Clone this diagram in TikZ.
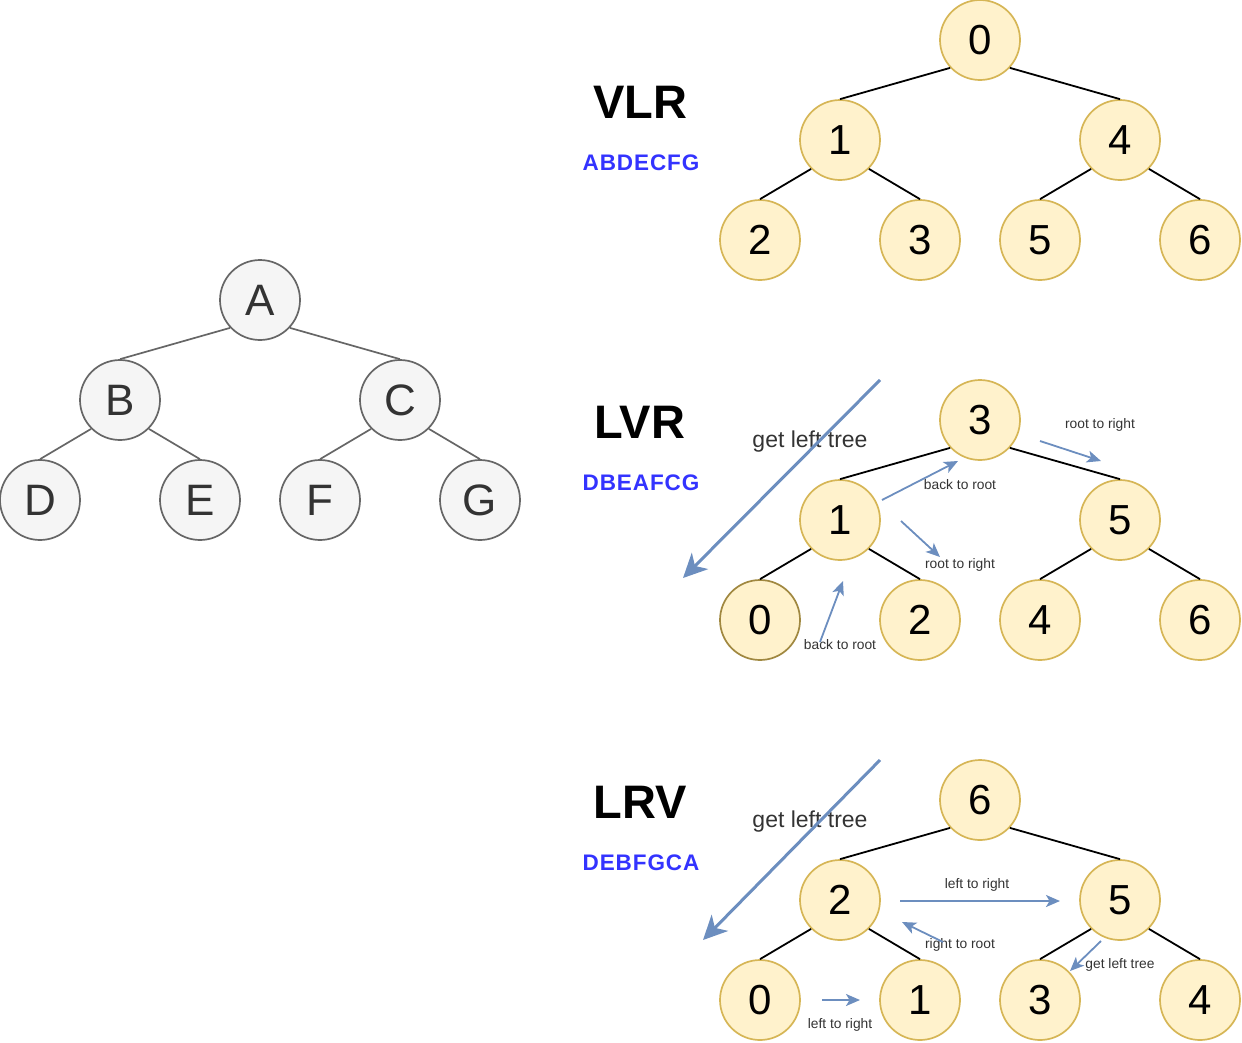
\documentclass[tikz,border=0pt]{standalone}
\usepackage{fontspec}
\setmainfont{Liberation Sans}
\usetikzlibrary{arrows.meta}
\definecolor{yfill}{HTML}{FFF2CC}
\definecolor{ystroke}{HTML}{D6B656}
\definecolor{gfill}{HTML}{F5F5F5}
\definecolor{gstroke}{HTML}{666666}
\definecolor{gtext}{HTML}{333333}
\definecolor{arrblue}{HTML}{6C8EBF}
\definecolor{titleblue}{HTML}{3333FF}
\tikzset{
  gnode/.style={circle, draw=gstroke, fill=gfill, text=gtext, minimum size=80pt, inner sep=0pt, line width=1.7pt, font=\fontsize{44}{50}\selectfont},
  ynode/.style={circle, draw=ystroke, fill=yfill, text=black, minimum size=80pt, inner sep=0pt, line width=1.7pt, font=\fontsize{42}{50}\selectfont},
  tedge/.style={black, line width=1.8pt},
  gedge/.style={gstroke, line width=1.7pt},
  bigarrow/.style={arrblue, line width=3pt, -{Stealth[length=24pt,width=23pt,inset=7pt]}},
  smallarrow/.style={arrblue, line width=1.8pt, -{Stealth[length=14pt,width=12pt,inset=3.5pt]}},
  lbl/.style={font=\fontsize{13.8}{16}\selectfont, text=gtext, inner sep=0pt},
  biglbl/.style={font=\fontsize{23}{26}\selectfont, text=gtext, inner sep=0pt},
  ttl/.style={font=\fontsize{47}{50}\selectfont\bfseries, anchor=base, inner sep=0pt},
  seq/.style={font=\fontsize{22.5}{24}\selectfont\bfseries\addfontfeature{LetterSpace=4}, text=titleblue, anchor=base, inner sep=0pt}
}
\begin{document}
\begin{tikzpicture}[x=1pt,y=-1pt]
\path[use as bounding box] (0,0) rectangle (1242,1042);

% left tree
\node[gnode] (A) at (260,300) {A};
\node[gnode] (B) at (120,400) {B};
\node[gnode] (C) at (400,400) {C};
\node[gnode] (D) at (40,500) {D};
\node[gnode] (E) at (200,500) {E};
\node[gnode] (F) at (320,500) {F};
\node[gnode] (G) at (480,500) {G};
\draw[gedge] (A.223) -- (B.north);
\draw[gedge] (A.317) -- (C.north);
\draw[gedge] (B.225) -- (D.north);
\draw[gedge] (B.315) -- (E.north);
\draw[gedge] (C.225) -- (F.north);
\draw[gedge] (C.315) -- (G.north);

% titles
\node[ttl] (t1) at (640,118) {VLR};
\node[seq] (s1) at (641,170) {ABDECFG};
\node[ttl] (t2) at (640,438) {LVR};
\node[seq] (s2) at (641,490) {DBEAFCG};
\node[ttl] (t3) at (640,818) {LRV};
\node[seq] (s3) at (641,870) {DEBFGCA};

% VLR tree
\node[ynode] (v0) at (980,40) {0};
\node[ynode] (v1) at (840,140) {1};
\node[ynode] (v4) at (1120,140) {4};
\node[ynode] (v2) at (760,240) {2};
\node[ynode] (v3) at (920,240) {3};
\node[ynode] (v5) at (1040,240) {5};
\node[ynode] (v6) at (1200,240) {6};
\draw[tedge] (v0.223) -- (v1.north);
\draw[tedge] (v0.317) -- (v4.north);
\draw[tedge] (v1.225) -- (v2.north);
\draw[tedge] (v1.315) -- (v3.north);
\draw[tedge] (v4.225) -- (v5.north);
\draw[tedge] (v4.315) -- (v6.north);

% LVR tree
\node[ynode] (m3) at (980,420) {3};
\node[ynode] (m1) at (840,520) {1};
\node[ynode] (m5) at (1120,520) {5};
\node[ynode, draw=ystroke!75!black] (m0) at (760,620) {0};
\node[ynode] (m2) at (920,620) {2};
\node[ynode] (m4) at (1040,620) {4};
\node[ynode] (m6) at (1200,620) {6};
\draw[tedge] (m3.223) -- (m1.north);
\draw[tedge] (m3.317) -- (m5.north);
\draw[tedge] (m1.225) -- (m0.north);
\draw[tedge] (m1.315) -- (m2.north);
\draw[tedge] (m5.225) -- (m4.north);
\draw[tedge] (m5.315) -- (m6.north);

\node[biglbl] (gl1) at (810,442) {get left tree};
\node[lbl] (l1) at (960,485) {back to root};
\node[lbl] (l2) at (960,565) {root to right};
\node[lbl] (l3) at (840,645) {back to root};
\node[lbl] (l4) at (1100,425) {root to right};

\coordinate (a1s) at (880,380);
\coordinate (a1e) at (683,578);
\draw[bigarrow] (a1s) -- (a1e);
\coordinate (b1s) at (882,500);
\coordinate (b1e) at (958,461);
\draw[smallarrow] (b1s) -- (b1e);
\coordinate (b2s) at (901,521);
\coordinate (b2e) at (940,557);
\draw[smallarrow] (b2s) -- (b2e);
\coordinate (b3s) at (820,642);
\coordinate (b3e) at (843,581);
\draw[smallarrow] (b3s) -- (b3e);
\coordinate (b4s) at (1040,441);
\coordinate (b4e) at (1101,461);
\draw[smallarrow] (b4s) -- (b4e);

% LRV tree
\node[ynode] (p6) at (980,800) {6};
\node[ynode] (p2) at (840,900) {2};
\node[ynode] (p5) at (1120,900) {5};
\node[ynode] (p0) at (760,1000) {0};
\node[ynode] (p1) at (920,1000) {1};
\node[ynode] (p3) at (1040,1000) {3};
\node[ynode] (p4) at (1200,1000) {4};
\draw[tedge] (p6.223) -- (p2.north);
\draw[tedge] (p6.317) -- (p5.north);
\draw[tedge] (p2.225) -- (p0.north);
\draw[tedge] (p2.315) -- (p1.north);
\draw[tedge] (p5.225) -- (p3.north);
\draw[tedge] (p5.315) -- (p4.north);

\node[biglbl] (gl2) at (810,822) {get left tree};
\node[lbl] (k1) at (977,885) {left to right};
\node[lbl] (k2) at (960,945) {right to root};
\node[lbl] (k3) at (840,1025) {left to right};
\node[lbl] (k4) at (1120,965) {get left tree};

\coordinate (a2s) at (880,760);
\coordinate (a2e) at (703,940);
\draw[bigarrow] (a2s) -- (a2e);
\coordinate (c1s) at (900,901);
\coordinate (c1e) at (1060,901);
\draw[smallarrow] (c1s) -- (c1e);
\coordinate (c2s) at (943,942);
\coordinate (c2e) at (902,922);
\draw[smallarrow] (c2s) -- (c2e);
\coordinate (c3s) at (822,1000);
\coordinate (c3e) at (860,1000);
\draw[smallarrow] (c3s) -- (c3e);
\coordinate (c4s) at (1101,941);
\coordinate (c4e) at (1070,971);
\draw[smallarrow] (c4s) -- (c4e);
\end{tikzpicture}
\end{document}
